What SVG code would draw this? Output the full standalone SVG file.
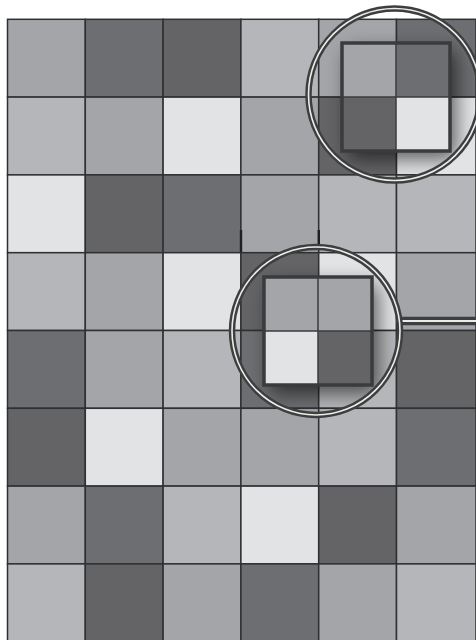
<svg xmlns="http://www.w3.org/2000/svg" width="476" height="640" viewBox="0 0 476 640">
<style>
.c{stroke:#2f3031;stroke-width:1.5}
.a{fill:#e2e3e5}.b{fill:#b5b6b9}.m{fill:#a4a5a8}.d{fill:#6d6e71}.e{fill:#646466}
.ringD{fill:none;stroke:#3d3e3f;stroke-width:6.5}
.ringW{fill:none;stroke:#ecede8;stroke-width:1.6}
.sq{fill:none;stroke:#3a3b3c;stroke-width:3.5}
.sl{stroke:#3a3b3c;stroke-width:1.5}
</style>
<defs>
<filter id="blur" x="-50%" y="-50%" width="200%" height="200%"><feGaussianBlur stdDeviation="10"/></filter>
<clipPath id="clip1"><circle cx="394.5" cy="94.5" r="86"/></clipPath>
<clipPath id="clip2"><circle cx="316" cy="331" r="84"/></clipPath>
</defs>
<rect width="476" height="640" fill="#ffffff"/>
<g id="grid">
<rect class="c m" x="7.5" y="19.3" width="77.8" height="77.8"/>
<rect class="c d" x="85.3" y="19.3" width="77.8" height="77.8"/>
<rect class="c e" x="163.1" y="19.3" width="77.8" height="77.8"/>
<rect class="c b" x="240.9" y="19.3" width="77.8" height="77.8"/>
<rect class="c m" x="318.7" y="19.3" width="77.8" height="77.8"/>
<rect class="c d" x="396.5" y="19.3" width="79.5" height="77.8"/>

<rect class="c b" x="7.5" y="97.1" width="77.8" height="77.8"/>
<rect class="c m" x="85.3" y="97.1" width="77.8" height="77.8"/>
<rect class="c a" x="163.1" y="97.1" width="77.8" height="77.8"/>
<rect class="c m" x="240.9" y="97.1" width="77.8" height="77.8"/>
<rect class="c e" x="318.7" y="97.1" width="77.8" height="77.8"/>
<rect class="c a" x="396.5" y="97.1" width="79.5" height="77.8"/>

<rect class="c a" x="7.5" y="174.9" width="77.8" height="77.8"/>
<rect class="c e" x="85.3" y="174.9" width="77.8" height="77.8"/>
<rect class="c d" x="163.1" y="174.9" width="77.8" height="77.8"/>
<rect class="c m" x="240.9" y="174.9" width="77.8" height="77.8"/>
<rect class="c b" x="318.7" y="174.9" width="77.8" height="77.8"/>
<rect class="c b" x="396.5" y="174.9" width="79.5" height="77.8"/>

<rect class="c b" x="7.5" y="252.7" width="77.8" height="77.8"/>
<rect class="c m" x="85.3" y="252.7" width="77.8" height="77.8"/>
<rect class="c a" x="163.1" y="252.7" width="77.8" height="77.8"/>
<rect class="c e" x="240.9" y="252.7" width="77.8" height="77.8"/>
<rect class="c a" x="318.7" y="252.7" width="77.8" height="77.8"/>
<rect class="c m" x="396.5" y="252.7" width="79.5" height="77.8"/>

<rect class="c d" x="7.5" y="330.5" width="77.8" height="77.8"/>
<rect class="c m" x="85.3" y="330.5" width="77.8" height="77.8"/>
<rect class="c b" x="163.1" y="330.5" width="77.8" height="77.8"/>
<rect class="c d" x="240.9" y="330.5" width="77.8" height="77.8"/>
<rect class="c b" x="318.7" y="330.5" width="77.8" height="77.8"/>
<rect class="c e" x="396.5" y="330.5" width="79.5" height="77.8"/>

<rect class="c e" x="7.5" y="408.3" width="77.8" height="77.8"/>
<rect class="c a" x="85.3" y="408.3" width="77.8" height="77.8"/>
<rect class="c m" x="163.1" y="408.3" width="77.8" height="77.8"/>
<rect class="c m" x="240.9" y="408.3" width="77.8" height="77.8"/>
<rect class="c b" x="318.7" y="408.3" width="77.8" height="77.8"/>
<rect class="c d" x="396.5" y="408.3" width="79.5" height="77.8"/>

<rect class="c m" x="7.5" y="486.1" width="77.8" height="77.8"/>
<rect class="c d" x="85.3" y="486.1" width="77.8" height="77.8"/>
<rect class="c b" x="163.1" y="486.1" width="77.8" height="77.8"/>
<rect class="c a" x="240.9" y="486.1" width="77.8" height="77.8"/>
<rect class="c e" x="318.7" y="486.1" width="77.8" height="77.8"/>
<rect class="c m" x="396.5" y="486.1" width="79.5" height="77.8"/>

<rect class="c b" x="7.5" y="563.9" width="77.8" height="77.8"/>
<rect class="c e" x="85.3" y="563.9" width="77.8" height="77.8"/>
<rect class="c m" x="163.1" y="563.9" width="77.8" height="77.8"/>
<rect class="c d" x="240.9" y="563.9" width="77.8" height="77.8"/>
<rect class="c m" x="318.7" y="563.9" width="77.8" height="77.8"/>
<rect class="c b" x="396.5" y="563.9" width="79.5" height="77.8"/>
<rect x="239.8" y="230" width="2.4" height="22" fill="#1f2021"/>
<rect x="317.6" y="230" width="2.4" height="16" fill="#1f2021"/>
</g>
<g id="connectors">
<line x1="398" y1="321" x2="476" y2="321" stroke="#3d3e3f" stroke-width="8.5"/>
<line x1="396" y1="321" x2="476" y2="321" stroke="#ecede8" stroke-width="2"/>
</g>
<g id="magnifier1">
<g clip-path="url(#clip1)">
<rect x="348" y="51" width="108" height="108" fill="#000" opacity="0.6" filter="url(#blur)"/>
</g>
<circle class="ringD" cx="394.5" cy="94.5" r="86"/>
<circle class="ringW" cx="394.5" cy="94.5" r="86"/>
<rect class="m" x="342" y="43" width="54" height="54"/>
<rect class="d" x="396" y="43" width="54" height="54"/>
<rect class="e" x="342" y="97" width="54" height="54"/>
<rect class="a" x="396" y="97" width="54" height="54"/>
<line class="sl" x1="396" y1="43" x2="396" y2="151"/>
<line class="sl" x1="342" y1="97" x2="450" y2="97"/>
<rect class="sq" x="342" y="43" width="108" height="108"/>
</g>
<g id="magnifier2">
<g clip-path="url(#clip2)">
<rect x="270" y="285" width="108" height="108" fill="#000" opacity="0.6" filter="url(#blur)"/>
</g>
<circle class="ringD" cx="316" cy="331" r="84"/>
<circle class="ringW" cx="316" cy="331" r="84"/>
<rect class="m" x="264" y="277" width="54" height="54"/>
<rect class="m" x="318" y="277" width="54" height="54"/>
<rect class="a" x="264" y="331" width="54" height="54"/>
<rect class="e" x="318" y="331" width="54" height="54"/>
<line class="sl" x1="318" y1="277" x2="318" y2="385"/>
<line class="sl" x1="264" y1="331" x2="372" y2="331"/>
<rect class="sq" x="264" y="277" width="108" height="108"/>
</g>
</svg>
